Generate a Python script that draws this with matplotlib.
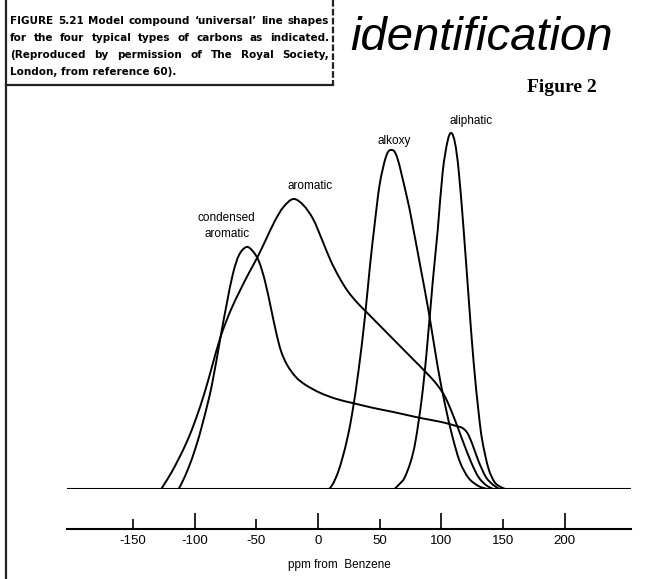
import matplotlib
matplotlib.use("Agg")
import numpy as np
import matplotlib.pyplot as plt
from matplotlib.lines import Line2D
from matplotlib.path import Path
from matplotlib.patches import PathPatch

# line shapes, chemical shift (ppm from benzene) vs relative intensity
condensed_ppm = [-113, -110, -105, -99, -93, -86, -79, -74, -69, -64, -58, -53, -48, -43,
                 -38, -34, -30, -25, -18, -10, 2, 15, 28, 45, 61, 83, 100, 112, 117, 121,
                 125, 130, 136, 142, 147]
condensed_int = [0, 7, 21, 42, 68, 104, 152, 185, 215, 234, 242, 238, 228, 208,
                 180, 157, 138, 124, 112, 104, 96, 90, 86, 81, 77, 71, 67, 63, 61, 56,
                 45, 28, 12, 4, 0]

aromatic_ppm = [-127, -124, -119, -113, -106, -99, -92, -86, -79, -71, -63, -56, -49, -42,
                -35, -28, -20, -12, -4, 3, 10, 17, 24, 32, 40, 52, 64, 76, 88, 96, 103,
                110, 117, 124, 130, 136, 142]
aromatic_int = [0, 6, 16, 30, 48, 70, 96, 122, 152, 178, 199, 216, 232, 250,
                268, 282, 290, 284, 270, 250, 229, 212, 198, 186, 176, 161, 146, 131,
                116, 105, 92, 72, 49, 27, 12, 4, 0]

alkoxy_ppm = [9, 12, 16, 20, 24, 28, 33, 38, 42, 46, 50, 55, 59, 64, 72, 76, 83, 90,
              97, 103, 109, 115, 122, 130, 137]
alkoxy_int = [0, 5, 16, 32, 52, 78, 120, 172, 222, 266, 305, 332, 339, 332, 292, 268,
              222, 175, 122, 84, 52, 27, 11, 3, 0]

aliphatic_ppm = [62, 66, 70, 75, 79, 84, 88, 93, 97, 101, 105, 108, 111, 114, 118, 122,
                 126, 130, 133, 138, 143, 148, 152]
aliphatic_int = [0, 5, 11, 27, 48, 90, 137, 208, 259, 317, 348, 356, 346, 318, 259, 192,
                 128, 78, 49, 21, 7, 2, 0]

tick_long = [-100, 0, 100, 200]
tick_short = [-150, -50, 50, 150]

caption = [
    "FIGURE 5.21  Model compound \u2018universal\u2019 line shapes",
    "for the four typical types of carbons as indicated.",
    "(Reproduced by permission of The Royal Society,",
    "London, from reference 60).",
]

W, H = 657, 579


def fx(x):
    return x / W


def fy(y):
    return 1 - y / H


def smooth_path(xs, ys):
    # Catmull-Rom through the points, written as cubic Bezier segments
    p = np.column_stack([xs, ys]).astype(float)
    pts = np.vstack([p[0], p, p[-1]])
    verts = [p[0]]
    codes = [Path.MOVETO]
    for i in range(1, len(pts) - 2):
        p0, p1, p2, p3 = pts[i - 1], pts[i], pts[i + 1], pts[i + 2]
        verts += [p1 + (p2 - p0) / 6, p2 - (p3 - p1) / 6, p2]
        codes += [Path.CURVE4] * 3
    return Path(verts, codes)


fig = plt.figure(figsize=(W / 100, H / 100), dpi=100)
fig.patch.set_facecolor("white")

# spectrum panel
ax = fig.add_axes([fx(67), fy(489), (631 - 67) / W, (489 - 120) / H])
ax.set_xlim(-203.4, 253.6)
ax.set_ylim(0, 369)
ax.set_axis_off()

ax.axhline(0, color="black", lw=1.5)
for xs, ys in [(condensed_ppm, condensed_int), (aromatic_ppm, aromatic_int),
               (alkoxy_ppm, alkoxy_int), (aliphatic_ppm, aliphatic_int)]:
    ax.add_patch(PathPatch(smooth_path(xs, ys), fill=False, edgecolor="black", lw=1.4,
                           joinstyle="round", capstyle="round"))

lab = dict(family="Liberation Sans", fontsize=8.5, ha="center", va="center")
ax.text(-74, 263, "condensed\naromatic", linespacing=1.4, **lab)
ax.text(-6.5, 303, "aromatic", **lab)
ax.text(62, 348, "alkoxy", **lab)
ax.text(124, 368, "aliphatic", **lab)

# ppm scale below the spectrum
ax2 = fig.add_axes([fx(67), fy(529), (631 - 67) / W, 0.001], sharex=ax)
for side in ["left", "right", "top"]:
    ax2.spines[side].set_visible(False)
ax2.spines["bottom"].set_linewidth(1.5)
ax2.set_yticks([])
ax2.set_xticks(tick_long, labels=[str(t) for t in tick_long])
ax2.set_xticks(tick_short, labels=[str(t) for t in tick_short], minor=True)
ax2.tick_params(axis="x", which="major", direction="in", length=11.5, width=1.2, pad=4,
                labelsize=9.5)
ax2.tick_params(axis="x", which="minor", direction="in", length=7.2, width=1.2, pad=4,
                labelsize=9.5)
for t in ax2.get_xticklabels(which="both"):
    t.set_family("Liberation Sans")
ax2.patch.set_visible(False)
fig.text(fx(339), fy(565), "ppm from  Benzene", family="Liberation Sans", fontsize=8.5,
         ha="center", va="center")

# caption box, justified lines
renderer = fig.canvas.get_renderer()
left_px, right_px = 10, 329
cap = dict(family="DejaVu Sans", weight="bold", fontsize=7.5, va="center")
for i, line in enumerate(caption):
    y = fy(21 + 17 * i)
    if i == len(caption) - 1:
        fig.text(fx(left_px), y, line, **cap)
        continue
    words = [w for w in line.split(" ") if w]
    items = [fig.text(0, y, w, **cap) for w in words]
    widths = [t.get_window_extent(renderer).width for t in items]
    gap = (right_px - left_px - sum(widths)) / (len(items) - 1)
    x = left_px
    for t, w in zip(items, widths):
        t.set_x(fx(x))
        x += w + gap

box = dict(color="#222222", lw=1.6, transform=fig.transFigure)
fig.add_artist(Line2D([fx(6), fx(6)], [fy(0), fy(H)], **box))
fig.add_artist(Line2D([fx(333), fx(333)], [fy(0), fy(85)], ls=(0, (3, 1)), **box))
fig.add_artist(Line2D([fx(6), fx(333)], [fy(85), fy(85)], **box))

fig.text(fx(350), fy(50), "identification", family="Liberation Sans", style="italic",
         fontsize=34, ha="left", va="baseline")
fig.text(fx(562), fy(87), "Figure 2", family="Liberation Serif", weight="bold",
         fontsize=14, ha="center", va="center")

fig.savefig("out.png", dpi=100, facecolor="white")
